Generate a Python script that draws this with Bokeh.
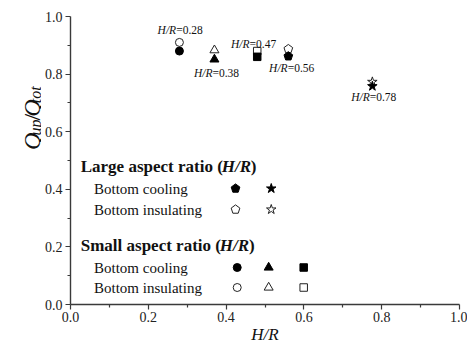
import math
from bokeh.plotting import figure
from bokeh.layouts import row
from bokeh.models import Label, FixedTicker, NumeralTickFormatter, Range1d
from bokeh.embed import file_html
from bokeh.resources import INLINE

# ---------------- data ----------------
small_hr = [0.28, 0.37, 0.48]            # circle, triangle, square
small_cool = [0.880, 0.851, 0.860]
small_insul = [0.910, 0.883, 0.880]
large_hr = [0.56, 0.776]                 # pentagon, star
large_cool = [0.862, 0.758]
large_insul = [0.887, 0.773]
point_labels = ["0.28", "0.38", "0.47", "0.56", "0.78"]
x_ticks = [0.0, 0.2, 0.4, 0.6, 0.8, 1.0]
y_ticks = [0.0, 0.2, 0.4, 0.6, 0.8, 1.0]
minor_ticks = [0.1, 0.3, 0.5, 0.7, 0.9]

# ---------------- layout helpers (page pixels -> data) ----------------
LW = 41                      # width of the y-title strip
H = 346
X0, XS, Y0, YS = 67.0, 392.0, 304.0, 288.0
def dx(px):
    return (px - X0) / XS
def dy(py):
    return (Y0 - py) / YS
def sx(x):
    return X0 + x * XS
def sy(y):
    return Y0 - y * YS

FONT = "Liberation Serif"

p = figure(width=467 - LW, height=H, x_range=Range1d(0, 1), y_range=Range1d(0, 1),
           output_backend="svg", toolbar_location=None,
           min_border_left=int(X0 - LW), min_border_right=8, min_border_top=16, min_border_bottom=42)
p.grid.visible = False
p.outline_line_color = None
p.background_fill_color = "white"
p.border_fill_color = "white"

for ax, ticks in ((p.xaxis, x_ticks), (p.yaxis, y_ticks)):
    ax.ticker = FixedTicker(ticks=ticks, minor_ticks=minor_ticks)
    ax.formatter = NumeralTickFormatter(format="0.0")
    ax.axis_line_color = "#3a3a3a"
    ax.axis_line_width = 1.4
    ax.major_tick_line_color = "#3a3a3a"
    ax.minor_tick_line_color = "#3a3a3a"
    ax.major_tick_line_width = 1.2
    ax.minor_tick_line_width = 1.2
    ax.major_tick_out = 5
    ax.major_tick_in = 0
    ax.minor_tick_out = 3
    ax.minor_tick_in = 0
    ax.major_label_text_font = FONT
    ax.major_label_text_font_size = "14px"
    ax.major_label_text_color = "#222222"
p.xaxis.major_label_standoff = 2
p.yaxis.major_label_standoff = 3
p.xaxis.axis_label = "H/R"
p.xaxis.axis_label_text_font = FONT
p.xaxis.axis_label_text_font_style = "italic"
p.xaxis.axis_label_text_font_size = "17px"
p.xaxis.axis_label_text_color = "#111111"
p.xaxis.axis_label_standoff = 0


def lab(fig, x, y, text, size, style="normal", align="left", baseline="middle", angle=0.0):
    fig.add_layout(Label(x=x, y=y, text=text, text_font=FONT,
                         text_font_size=f"{size}px", text_font_style=style,
                         text_align=align, text_baseline=baseline, angle=angle,
                         text_color="#111111"))


def plab(px, py, text, size, style="normal", align="left"):
    lab(p, dx(px), dy(py), text, size, style, align)


def pentagons(xs, ys, r):
    pxs, pys = [], []
    for x, y in zip(xs, ys):
        angs = [math.radians(90 + 72 * k) for k in range(5)]
        pxs.append([x + r * math.cos(a) / XS for a in angs])
        pys.append([y + r * math.sin(a) / YS for a in angs])
    return pxs, pys

# ---------------- data markers ----------------
small_markers = ["circle", "triangle", "square"]
small_sizes = [8, 9, 7.5]
for i, (m, s) in enumerate(zip(small_markers, small_sizes)):
    p.scatter([small_hr[i]], [small_insul[i]], marker=m, size=s,
              fill_color="white", line_color="#222222", line_width=1)
    p.scatter([small_hr[i]], [small_cool[i]], marker=m, size=s,
              fill_color="black", line_color="black", line_width=1)

pxs, pys = pentagons([large_hr[0]], [large_insul[0]], 4.6)
p.patches(pxs, pys, fill_color="white", line_color="#222222", line_width=1)
pxs, pys = pentagons([large_hr[0]], [large_cool[0]], 4.6)
p.patches(pxs, pys, fill_color="black", line_color="black", line_width=1)
p.scatter([large_hr[1]], [large_insul[1]], marker="star", size=10,
          fill_color="white", line_color="#222222", line_width=1)
p.scatter([large_hr[1]], [large_cool[1]], marker="star", size=10,
          fill_color="black", line_color="black", line_width=1)

# ---------------- point annotations ----------------
all_hr = small_hr + large_hr
all_cool = small_cool + large_cool
offsets = [(-3.3, -20.6), (-2.0, 13.4), (-7.7, -13.0), (-0.7, 11.6), (-2.7, 11.0)]
for x, y, txt, (ox, oy) in zip(all_hr, all_cool, point_labels, offsets):
    ax_, ay_ = sx(x) + ox, sy(y) + oy
    plab(ax_, ay_, "H/R", 11.5, style="italic", align="right")
    plab(ax_, ay_, "=" + txt, 11.5, align="left")

# ---------------- custom legend ----------------
plab(77.3, 166, "Large aspect ratio (", 17, style="bold")
plab(219.4, 166, "H/R", 17, style="bold italic")
plab(248.7, 166, ")", 17, style="bold")
plab(90.7, 188, "Bottom cooling", 15)
plab(90.7, 209, "Bottom insulating", 15)
plab(77.3, 245, "Small aspect ratio (", 17, style="bold")
plab(217.5, 245, "H/R", 17, style="bold italic")
plab(246.8, 245, ")", 17, style="bold")
plab(90.7, 267, "Bottom cooling", 15)
plab(90.7, 287, "Bottom insulating", 15)

leg_small_x = [dx(235), dx(266.7), dx(302)]
for lx, m, s in zip(leg_small_x, small_markers, small_sizes):
    p.scatter([lx], [dy(267)], marker=m, size=s, fill_color="black", line_color="black")
    p.scatter([lx], [dy(287)], marker=m, size=s, fill_color="white", line_color="#222222")
pxs, pys = pentagons([dx(233.3)], [dy(188)], 4.6)
p.patches(pxs, pys, fill_color="black", line_color="black")
pxs, pys = pentagons([dx(233.3)], [dy(209)], 4.6)
p.patches(pxs, pys, fill_color="white", line_color="#222222")
p.scatter([dx(269.3)], [dy(188)], marker="star", size=10, fill_color="black", line_color="black")
p.scatter([dx(269.3)], [dy(209)], marker="star", size=10, fill_color="white", line_color="#222222")

# ---------------- y-axis title strip (data units = pixels, y measured upward) ----------------
yl = figure(width=LW, height=H, x_range=Range1d(0, LW), y_range=Range1d(0, H),
            output_backend="svg", toolbar_location=None, min_border=0,
            x_axis_location=None, y_axis_location=None)
yl.grid.visible = False
yl.outline_line_color = None
yl.border_fill_color = "white"
HALF = math.pi / 2
QB, SB = 31.5, 35.0
def ylab(px, py_top, text, size, style):
    # rotated text, anchored at the upper end of each piece
    lab(yl, px, H - py_top, text, size, style=style, align="right",
        baseline="alphabetic", angle=HALF)
ylab(QB, 139.7, "Q", 24, "italic")
ylab(SB, 123.7, "up", 16, "italic")
ylab(QB, 117.0, "/", 24, "normal")
ylab(QB, 99.7, "Q", 24, "italic")
ylab(SB, 83.8, "tot", 16, "italic")

layout = row(yl, p, spacing=0)
open("out.html", "w").write(file_html(layout, INLINE))
